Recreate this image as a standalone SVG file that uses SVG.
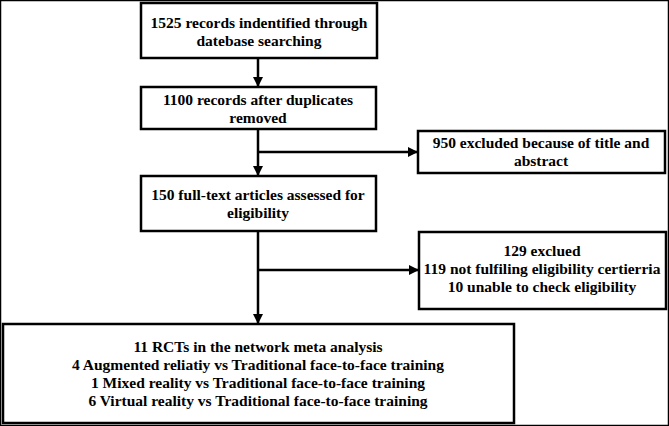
<svg xmlns="http://www.w3.org/2000/svg" width="669" height="426" viewBox="0 0 669 426">
<defs>
<style>
rect{fill:#fff;stroke:#000;stroke-width:2.5}
text{font-weight:bold;font-size:15.5px;text-anchor:middle;fill:#000}
.c line{stroke:#000;stroke-width:2.5}
</style>
<marker id="a" markerWidth="10" markerHeight="10" refX="9" refY="5" orient="auto" markerUnits="userSpaceOnUse"><path d="M0,0 L10,5 L0,10 Z" fill="#000"/></marker>
</defs>
<rect width="669" height="426" fill="#fff" stroke="none"/>
<g class="c">
<line x1="258" y1="58" x2="258" y2="86" marker-end="url(#a)"/>
<line x1="258" y1="129" x2="258" y2="175" marker-end="url(#a)"/>
<line x1="258" y1="152" x2="417" y2="152" marker-end="url(#a)"/>
<line x1="258" y1="231" x2="258" y2="323" marker-end="url(#a)"/>
<line x1="258" y1="270" x2="418" y2="270" marker-end="url(#a)"/>
</g>
<g font-family="'Liberation Serif', 'Times New Roman', Times, serif">
<g id="n1"><rect x="141" y="3" width="236" height="55"/><text x="259" y="28">1525 records indentified through</text><text x="259" y="46">datebase searching</text></g>
<g id="n2"><rect x="141" y="87" width="235" height="42"/><text x="258" y="105">1100 records after duplicates</text><text x="258" y="123">removed</text></g>
<g id="n3"><rect x="418" y="131" width="247" height="42"/><text x="541" y="148">950 excluded because of title and</text><text x="541" y="166">abstract</text></g>
<g id="n4"><rect x="141" y="176" width="235" height="55"/><text x="258" y="200">150 full-text articles assessed for</text><text x="258" y="218">eligibility</text></g>
<g id="n5"><rect x="419" y="232" width="247" height="77"/><text x="542" y="256">129 exclued</text><text x="542" y="274">119 not fulfiling eligibility certierria</text><text x="542" y="292">10 unable to check eligibility</text></g>
<g id="n6"><rect x="3" y="324" width="511" height="99"/><text x="258" y="352">11 RCTs in the network meta analysis</text><text x="258" y="370">4 Augmented reliatiy vs Traditional face-to-face training</text><text x="258" y="388">1 Mixed reality vs Traditional face-to-face training</text><text x="258" y="406">6 Virtual reality vs Traditional face-to-face training</text></g>
</g>
</svg>
